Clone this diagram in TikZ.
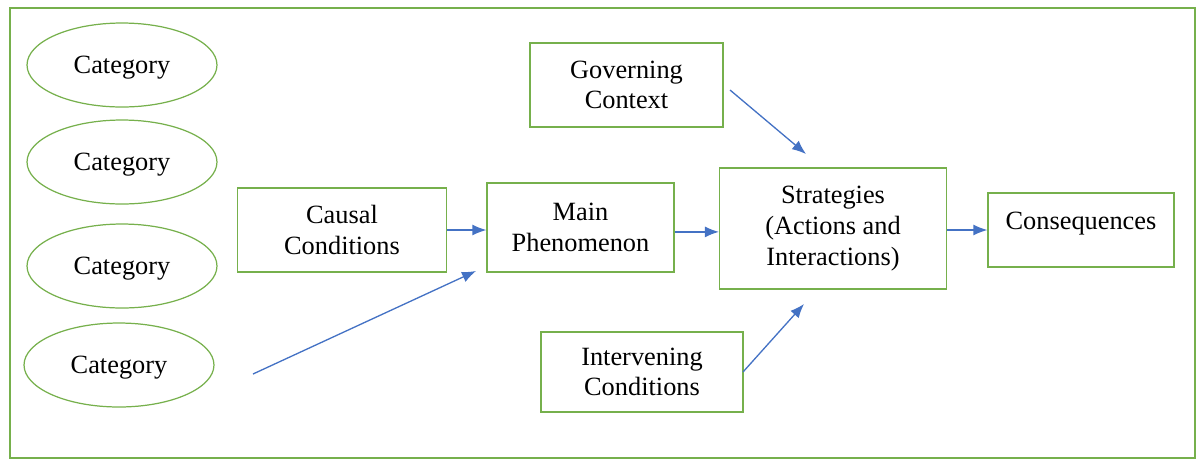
\documentclass[tikz,border=0pt]{standalone}
\usepackage{fontspec}
\setmainfont{Liberation Serif}
\usetikzlibrary{arrows.meta,shapes.geometric}
\definecolor{boxgreen}{RGB}{118,176,76}
\definecolor{arrowblue}{RGB}{68,114,196}
\tikzset{
  catnode/.style={ellipse, draw=boxgreen, line width=0.7pt, inner sep=0pt,
    minimum width=3.8cm, minimum height=1.68cm, text depth=0pt},
  stagebox/.style={rectangle, draw=boxgreen, line width=0.7pt, align=center,
    font=\fontsize{15}{17.5}\selectfont},
  flow/.style={draw=arrowblue, line width=0.75pt, -{Latex[length=2.8mm,width=2.2mm]}}
}
\begin{document}
\begin{tikzpicture}[x=0.02cm, y=-0.02cm, font=\fontsize{15}{17.5}\selectfont]
    \useasboundingbox (0,0) rectangle (1204,461);
    \draw[boxgreen, line width=0.7pt] (10,8) rectangle (1195,458);
    % categories
    \node [catnode] (cat1) at (122,65) {Category};
    \node [catnode] (cat2) at (122,162) {Category};
    \node [catnode] (cat3) at (122,266) {Category};
    \node [catnode] (cat4) at (119,365) {Category};
    % paradigm boxes
    \node [stagebox, minimum width=4.18cm, minimum height=1.68cm] (causal) at (342,230) {Causal\\Conditions};
    \node [stagebox, minimum width=3.74cm, minimum height=1.78cm] (main) at (580.5,227.5) {Main\\Phenomenon};
    \node [stagebox, minimum width=3.86cm, minimum height=1.68cm] (context) at (626.5,85) {Governing\\Context};
    \node [stagebox, minimum width=4.54cm, minimum height=2.42cm] (strategy) at (833,228.5) {Strategies\\(Actions and\\Interactions)};
    \node [stagebox, minimum width=3.72cm, minimum height=1.48cm, text depth=0.36cm] (conseq) at (1081,230) {Consequences};
    \node [stagebox, minimum width=4.04cm, minimum height=1.6cm] (interv) at (642,372) {Intervening\\Conditions};
    % loose arrow ends
    \coordinate (catout) at (253,374);
    \coordinate (mainin) at (476,271);
    \coordinate (ctxout) at (730,90);
    \coordinate (strin1) at (806,154);
    \coordinate (intout) at (743,372);
    \coordinate (strin2) at (804,304);
    % arrows
    \draw [flow] (causal.east) -- (causal.east -| main.west);
    \draw [flow] (catout) -- (mainin);
    \draw [flow] ([yshift=-2.5]main.east) -- ([yshift=-2.5]main.east -| strategy.west);
    \draw [flow] (ctxout) -- (strin1);
    \draw [flow] (intout) -- (strin2);
    \draw [flow] (conseq.west -| strategy.east) -- (conseq.west);
\end{tikzpicture}
\end{document}
